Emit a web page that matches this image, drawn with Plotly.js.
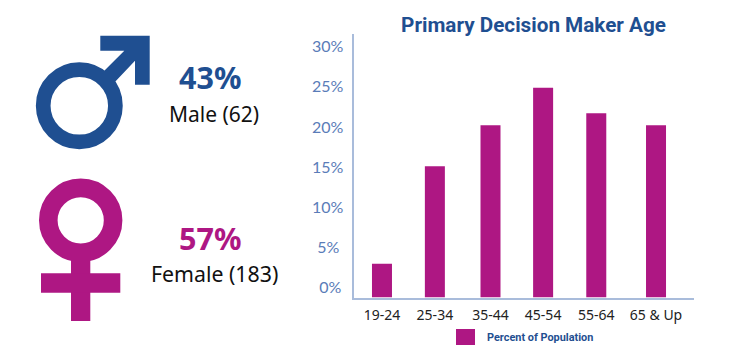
<!DOCTYPE html>
<html>
<head>
<meta charset="utf-8">
<script src="https://cdn.plot.ly/plotly-3.0.1.min.js"></script>
<style>html,body{margin:0;padding:0;background:#fff}#chart{width:732px;height:357px}</style>
</head>
<body>
<div id="chart"></div>
<script>
// Data
const ageGroups = ["19-24", "25-34", "35-44", "45-54", "55-64", "65 & Up"];
const percentOfPopulation = [2.9, 15.1, 20.2, 24.9, 21.7, 20.2];
const yTickValues = [0, 5, 10, 15, 20, 25, 30];
const yTickLabels = ["0%\u2009", "5%\u2009\u2009", "10%", "15%", "20%", "25%", "30%"];
const seriesName = "Percent of Population";
const genderShares = [
  {share: "43%", label: "Male (62)"},
  {share: "57%", label: "Female (183)"}
];

// Layout
const W = 732, H = 357;
const BLUE = "#1f4f91", MAGENTA = "#ae1783";
const px = x => x / W;
const py = y => 1 - y / H;
// The source draws its bars at slightly uneven spacing and hangs them below the 0% label
const barSlots = [0, 0.965, 1.98, 2.94, 3.91, 5];
const barFloor = -1.3;

const poly = pts => "M" + pts.map(p => px(p[0]) + "," + py(p[1])).join("L") + "Z";
const rect = (x0, y0, x1, y1, color) => ({type: "rect", xref: "paper", yref: "paper",
  x0: px(x0), x1: px(x1), y0: py(y0), y1: py(y1), fillcolor: color, line: {width: 0}});
const ring = (cx, cy, r, w, color) => ({type: "circle", xref: "paper", yref: "paper",
  x0: px(cx - r), x1: px(cx + r), y0: py(cy - r), y1: py(cy + r),
  fillcolor: "rgba(0,0,0,0)", line: {color: color, width: w}});

const shapes = [
  ring(79.3, 105.8, 36.1, 14.7, BLUE),
  {type: "path", xref: "paper", yref: "paper", fillcolor: BLUE, line: {width: 0},
   path: poly([[149.7,35.7],[100.3,35.7],[100.3,50.7],[124.3,50.7],[102,73],[113,84],[135,60.7],[135,84.7],[149.7,84.7]])},
  ring(80.7, 220.3, 32.4, 18.6, MAGENTA),
  rect(71, 250, 90.3, 321, MAGENTA),
  rect(41, 273.3, 120.3, 292.7, MAGENTA),
  rect(456, 329, 475, 345, MAGENTA)
];

const note = (text, x, y, size, color, family, bold, anchor) => ({
  text: bold ? "<b>" + text + "</b>" : text,
  xref: "paper", yref: "paper", x: px(x), y: py(y), showarrow: false,
  xanchor: anchor || "center", yanchor: "middle",
  font: {family: family, size: size, color: color}
});

const annotations = [
  note(genderShares[0].share, 210, 76.5, 30.5, BLUE, "Noto Sans", true),
  note(genderShares[0].label, 214, 113.5, 21, "#111", "Noto Sans", false),
  note(genderShares[1].share, 210, 238.5, 30.5, MAGENTA, "Noto Sans", true),
  note(genderShares[1].label, 214, 273.5, 21.3, "#111", "Noto Sans", false),
  note(seriesName, 484.5, 337, 10.9, BLUE, "Roboto", true, "left")
];

const trace = {
  type: "bar",
  name: seriesName,
  x: barSlots,
  y: percentOfPopulation.map(v => v - barFloor),
  base: barFloor,
  width: 0.365,
  marker: {color: MAGENTA},
  hovertemplate: "%{text}<extra></extra>",
  text: percentOfPopulation.map(String),
  textposition: "none"
};

const layout = {
  width: W, height: H,
  margin: {l: 0, r: 0, t: 0, b: 0, pad: 0},
  paper_bgcolor: "#fff", plot_bgcolor: "#fff",
  showlegend: false,
  title: {text: "<b>Primary Decision Maker Age</b>", x: px(533.5), xanchor: "center", xref: "paper",
          y: py(25), yanchor: "middle", font: {family: "Roboto", size: 20.7, color: BLUE}},
  xaxis: {
    domain: [px(354.3), px(694)],
    range: [-0.505, 5.693],
    tickvals: barSlots, ticktext: ageGroups,
    ticks: "", ticklabelstandoff: 4,
    showgrid: false, zeroline: false,
    showline: true, linecolor: "#a9bcdb", linewidth: 1.5,
    tickfont: {family: "Noto Sans", size: 14, color: "#222"}
  },
  yaxis: {
    domain: [py(297.5), py(34)],
    range: [barFloor, 31.6],
    tickvals: yTickValues, ticktext: yTickLabels,
    ticks: "", ticklabelstandoff: 6,
    showgrid: false, zeroline: false,
    showline: true, linecolor: "#a9bcdb", linewidth: 1.5,
    tickfont: {family: "Lato", size: 16, color: "#5a7cb8"}
  },
  shapes: shapes,
  annotations: annotations
};

Plotly.newPlot("chart", [trace], layout, {displayModeBar: false, responsive: false});
</script>
</body>
</html>
